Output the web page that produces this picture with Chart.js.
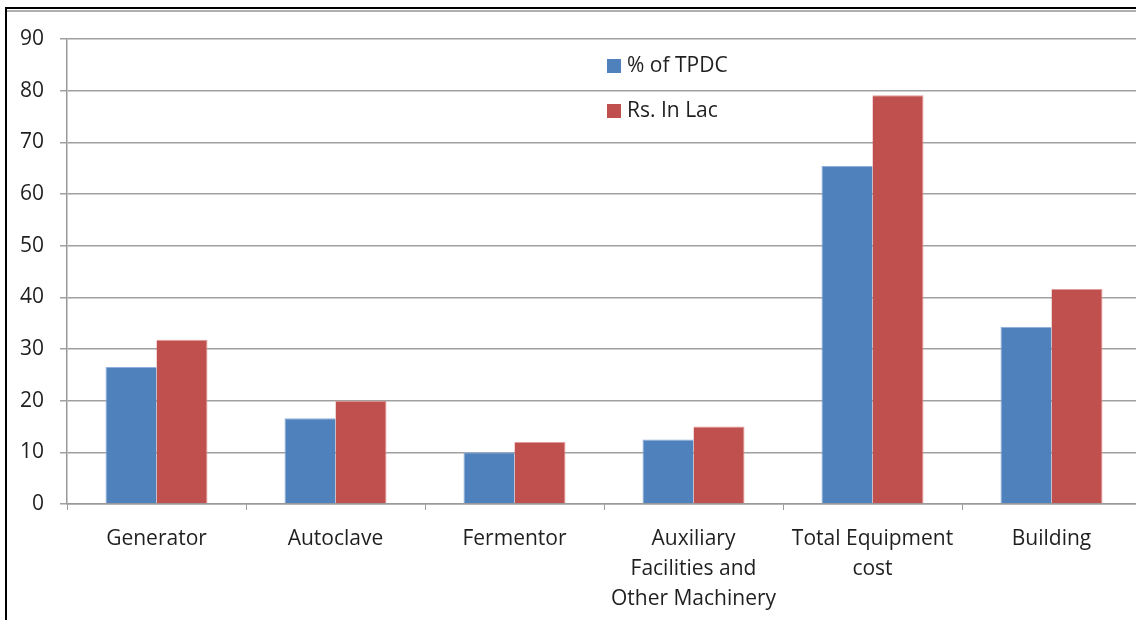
<!DOCTYPE html>
<html>
<head>
<meta charset="utf-8">
<script src="https://cdn.jsdelivr.net/npm/chart.js@4.4.1/dist/chart.umd.min.js"></script>
<style>
  html,body{margin:0;padding:0;background:#fff;overflow:hidden;}
  #frame{position:absolute;left:5px;top:7px;width:1200px;height:700px;border-left:2px solid #000;border-top:2px solid #000;}
  #frame:after{content:'';position:absolute;left:0;right:0;top:1px;height:2px;background:#b0b0b0;}
  #wrap{position:absolute;left:0;top:0;width:1145px;height:620px;}
</style>
</head>
<body>
<div id="frame"></div>
<div id="wrap"><canvas id="c" width="1145" height="620"></canvas></div>
<script>
// Cost breakdown data
const categories = ['Generator', 'Autoclave', 'Fermentor', ['Auxiliary', 'Facilities and', 'Other Machinery'], ['Total Equipment', 'cost'], 'Building'];
const pctTPDC = [26.5, 16.6, 10, 12.5, 65.4, 34.3];
const rsInLac = [31.8, 20, 12, 15, 79.1, 41.6];
const seriesNames = ['% of TPDC', 'Rs. In Lac'];
const yTicks = [0, 10, 20, 30, 40, 50, 60, 70, 80, 90];

const FONT = "'Open Sans', 'Noto Sans', sans-serif";
const TXT = '#1f1f1f';

// legend drawn inside the plot, stacked vertically
const innerLegend = {
  id:'innerLegend',
  afterDraw(chart){
    const ctx = chart.ctx;
    ctx.save();
    ctx.font = '21px ' + FONT;
    ctx.textBaseline = 'middle';
    chart.data.datasets.forEach((ds,i)=>{
      const y = 66 + i*45;
      ctx.fillStyle = ds.backgroundColor;
      ctx.fillRect(607, y-7, 14, 14);
      ctx.fillStyle = TXT;
      ctx.fillText(ds.label, 627, y);
    });
    ctx.restore();
  }
};

new Chart(document.getElementById('c'), {
  type:'bar',
  data:{
    labels: categories,
    datasets:[
      {label:seriesNames[0], data:pctTPDC, backgroundColor:'#4F81BD', borderColor:'#8FB0DA', borderWidth:{top:1,left:1,right:0,bottom:0}, borderSkipped:'bottom'},
      {label:seriesNames[1], data:rsInLac, backgroundColor:'#C0504D', borderColor:'#E39A98', borderWidth:{top:1,left:0,right:1,bottom:0}, borderSkipped:'bottom'}
    ]
  },
  options:{
    responsive:false,
    animation:false,
    layout:{padding:{left:0, right:4, top:39, bottom:0}},
    datasets:{bar:{barPercentage:1, categoryPercentage:0.57}},
    plugins:{legend:{display:false}, tooltip:{enabled:false}},
    scales:{
      x:{
        grid:{display:true, drawOnChartArea:false, color:'#9a9a9a', tickLength:6, offset:true},
        border:{color:'#9a9a9a', width:1.5},
        ticks:{font:{family:FONT, size:21, lineHeight:1.43}, color:TXT, padding:14, maxRotation:0, autoSkip:false},
        afterFit(s){ s.height = 116; }
      },
      y:{
        min:0, max:90,
        afterBuildTicks(s){ s.ticks = yTicks.map(v=>({value:v})); },
        grid:{color:'#a0a0a0', lineWidth:1.5, tickLength:7},
        border:{color:'#9a9a9a', width:1.5},
        ticks:{font:{family:FONT, size:21}, color:TXT, padding:16},
        afterFit(s){ s.width = 67; }
      }
    }
  },
  plugins:[innerLegend]
});
</script>
</body>
</html>
